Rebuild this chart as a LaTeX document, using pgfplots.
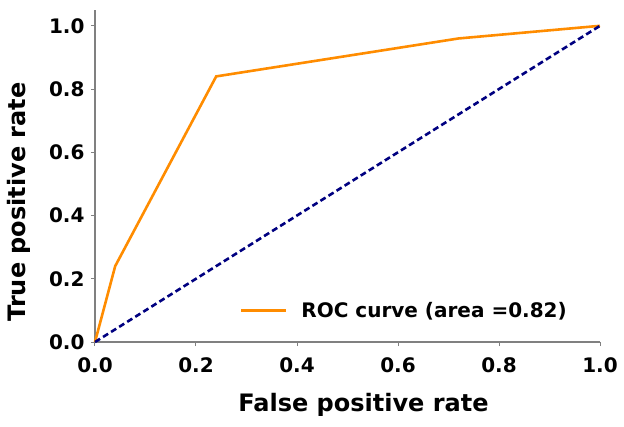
\documentclass[border=0pt]{standalone}
\usepackage{pgfplots}
\pgfplotsset{compat=1.18}
\usepackage{fontspec}
\setmainfont{DejaVu Sans}
\definecolor{navy}{RGB}{0,0,128}
\definecolor{darkorange}{RGB}{255,140,0}
\definecolor{spine}{RGB}{128,128,128}

\begin{document}
\begin{tikzpicture}
\begin{axis}[
  name=roc,
  scale only axis,
  width=505pt, height=332pt,
  xmin=0, xmax=1, ymin=0, ymax=1.05,
  axis lines=left,
  axis line style={-, draw=spine, line width=1.3pt},
  tick style={draw=spine, line width=1pt},
  tick align=outside,
  major tick length=4pt,
  xtick={0,0.2,0.4,0.6,0.8,1.0},
  ytick={0,0.2,0.4,0.6,0.8,1.0},
  xticklabels={0.0,0.2,0.4,0.6,0.8,1.0},
  yticklabels={0.0,0.2,0.4,0.6,0.8,1.0},
  tick label style={font=\fontsize{20}{24}\selectfont\bfseries},
  xticklabel style={yshift=-8pt},
  yticklabel style={xshift=-3pt},
  xlabel={False positive rate},
  ylabel={True positive rate},
  label style={font=\fontsize{24}{28}\selectfont\bfseries},
  xlabel style={yshift=-14pt, xshift=16pt},
  ylabel style={yshift=12pt, xshift=-26pt},
  legend style={at={(axis cs:0.287,0.10)}, anchor=west, draw=none, fill=none,
    inner sep=0pt, font=\fontsize{20}{24}\selectfont\bfseries},
  legend image code/.code={%
    \draw[#1] (0pt,0pt) -- (45pt,0pt);
    \path[draw=none] (0pt,0pt) -- (58pt,0pt);},
  legend cell align=left,
  clip=false,
]
% ROC curve of the classifier
\addplot[darkorange, line width=2.6pt, line join=miter] coordinates {
  (0,0) (0.04,0.24) (0.24,0.84) (0.72,0.96) (1,1)
};
\addlegendentry{ROC curve (area =0.82)}
% chance line
\addplot[navy, line width=2.6pt, dash pattern=on 6pt off 3.5pt, forget plot] coordinates {
  (0,0) (1,1)
};
\end{axis}
\pgfresetboundingbox
\path[use as bounding box] ([xshift=-95pt,yshift=-84pt]roc.south west)
  rectangle ([xshift=24pt,yshift=10pt]roc.north east);
\end{tikzpicture}
\end{document}
